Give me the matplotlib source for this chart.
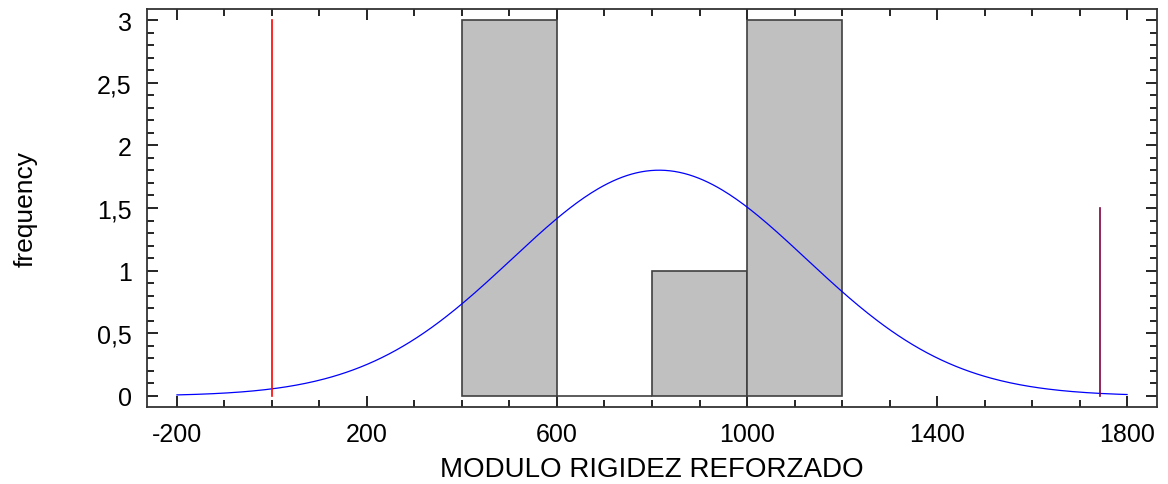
import numpy as np
import matplotlib
matplotlib.use("Agg")
import matplotlib.pyplot as plt
from matplotlib.ticker import MultipleLocator, FixedLocator, FuncFormatter

plt.rcParams['font.family'] = ['Liberation Sans', 'DejaVu Sans']
plt.rcParams['axes.unicode_minus'] = False

# Histogram data
bin_edges = [400, 600, 800, 1000, 1200]
bin_counts = [3, 0, 1, 3]

# Fitted normal curve parameters
fit_mean = 815
fit_sigma = 310
fit_range = [-200, 1800]

# Specification lines (x position, height)
lsl_x, lsl_h = 0, 3
usl_x, usl_h = 1742, 1.5

x_ticks = [-200, 200, 600, 1000, 1400, 1800]
y_ticks = [0, 0.5, 1, 1.5, 2, 2.5, 3]

fig = plt.figure(figsize=(11.68, 4.85), dpi=100)
ax = fig.add_axes([147/1168, 1 - 408/485, (1157-147)/1168, (408-10)/485])

widths = np.diff(bin_edges)
ax.bar(bin_edges[:-1], bin_counts, width=widths, align='edge',
       color='#c0c0c0', edgecolor='#404040', linewidth=1.2, zorder=2)

n = sum(bin_counts)
bw = widths[0]
xs = np.linspace(fit_range[0], fit_range[1], 400)
ys = n * bw * np.exp(-(xs - fit_mean)**2 / (2 * fit_sigma**2)) / (fit_sigma * np.sqrt(2*np.pi))
ax.plot(xs, ys, color='#0000ff', linewidth=0.9, zorder=3)

ax.plot([lsl_x, lsl_x], [0, lsl_h], color='#ff0000', linewidth=1.2, zorder=4)
ax.plot([usl_x, usl_x], [0, usl_h], color='#800040', linewidth=1.2, zorder=4)

ax.set_xlim(-263, 1863)
ax.set_ylim(-0.088, 3.088)
ax.xaxis.set_major_locator(FixedLocator(x_ticks))
ax.xaxis.set_minor_locator(MultipleLocator(100))
ax.yaxis.set_major_locator(FixedLocator(y_ticks))
ax.yaxis.set_minor_locator(MultipleLocator(0.1))
ax.yaxis.set_major_formatter(FuncFormatter(lambda v, p: ('%g' % v).replace('.', ',')))

ax.tick_params(which='both', direction='in', top=True, right=True, labelsize=18, width=1.2)
ax.tick_params(which='major', length=8)
ax.tick_params(which='minor', length=5)
ax.tick_params(axis='x', which='major', pad=11)
ax.tick_params(axis='y', which='major', pad=11)
for s in ax.spines.values():
    s.set_linewidth(1.3)
    s.set_color('#333333')

ax.set_xlabel('MODULO RIGIDEZ REFORZADO', fontsize=20)
ax.set_ylabel('frequency', fontsize=19)
ax.xaxis.set_label_coords(0.5, -(470 - 408) / 398, transform=ax.transAxes)
ax.xaxis.label.set_va('center')
ax.yaxis.set_label_coords((26 - 147) / 1010, 0.5, transform=ax.transAxes)
ax.yaxis.label.set_va('center')

fig.savefig('out.png', dpi=100)
